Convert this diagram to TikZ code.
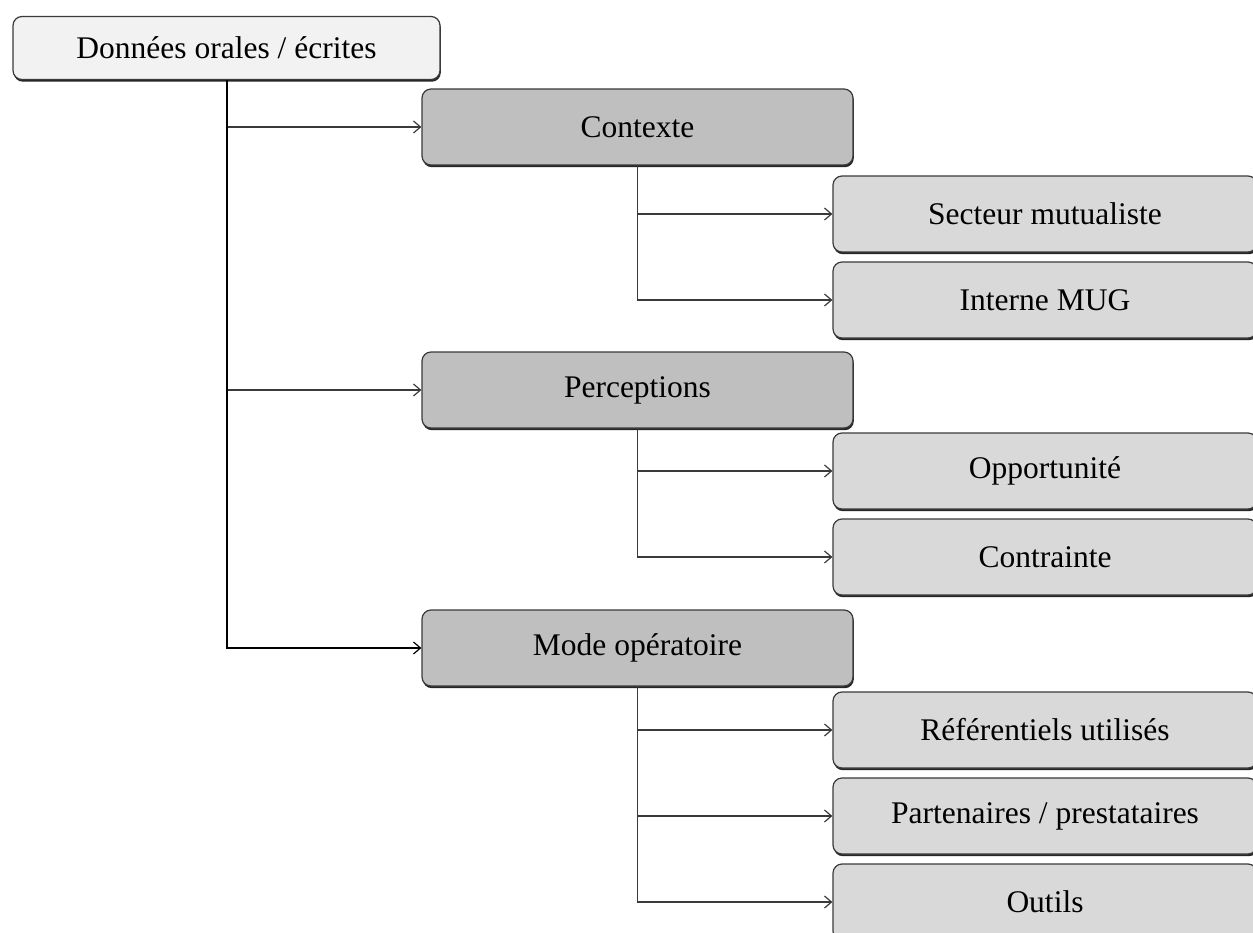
\documentclass[tikz,border=0pt]{standalone}
\usepackage{fontspec}
\setmainfont{Liberation Serif}
\usetikzlibrary{arrows.meta,shadows}
\definecolor{lightbox}{HTML}{F2F2F2}
\definecolor{midbox}{HTML}{BFBFBF}
\definecolor{subbox}{HTML}{D9D9D9}
\definecolor{edge}{HTML}{3A3A3A}
\tikzset{
  x=1pt, y=1pt,
  box/.style={draw=edge, line width=1.2pt, rounded corners=9pt, inner sep=0pt,
    font=\fontsize{31.5}{36}\selectfont, text=black,
    drop shadow={shadow xshift=0.8pt, shadow yshift=-2.2pt, fill=black!85, opacity=1}},
  topbox/.style={box, fill=lightbox, minimum width=427pt, minimum height=63pt},
  midboxst/.style={box, fill=midbox, minimum width=431pt, minimum height=76pt},
  subboxst/.style={box, fill=subbox, minimum width=424pt, minimum height=76pt},
  conn/.style={draw=edge, line width=1.5pt, -{Straight Barb[length=7pt,width=12pt,line width=1.2pt]}},
}
\begin{document}
\begin{tikzpicture}
\useasboundingbox (0,0) rectangle (1253,-933);
\begin{scope}
\clip (0,0) rectangle (1253,-933);
\node[topbox] (top) at (226.5,-48) {Données orales / écrites};
\node[midboxst] (ctx) at (637.5,-127) {Contexte};
\node[midboxst] (per) at (637.5,-390) {Perceptions};
\node[midboxst] (mode) at (637.5,-648) {Mode opératoire};
\node[subboxst] (sec) at (1045,-214) {Secteur mutualiste};
\node[subboxst] (int) at (1045,-300) {Interne MUG};
\node[subboxst] (opp) at (1045,-471) {Opportunité};
\node[subboxst] (con) at (1045,-557) {Contrainte};
\node[subboxst] (ref) at (1045,-730) {Référentiels utilisés};
\node[subboxst] (par) at (1045,-816) {Partenaires / prestataires};
\node[subboxst] (out) at (1045,-902) {Outils};
\end{scope}
\draw[conn] (top.south) |- (ctx.west);
\draw[conn] (top.south) |- (per.west);
\draw[conn, draw=black, line width=2pt] (top.south) |- (mode.west);
\draw[conn] (ctx.south) |- (sec.west);
\draw[conn] (ctx.south) |- (int.west);
\draw[conn] (per.south) |- (opp.west);
\draw[conn] (per.south) |- (con.west);
\draw[conn] (mode.south) |- (ref.west);
\draw[conn] (mode.south) |- (par.west);
\draw[conn] (mode.south) |- (out.west);
\end{tikzpicture}
\end{document}
